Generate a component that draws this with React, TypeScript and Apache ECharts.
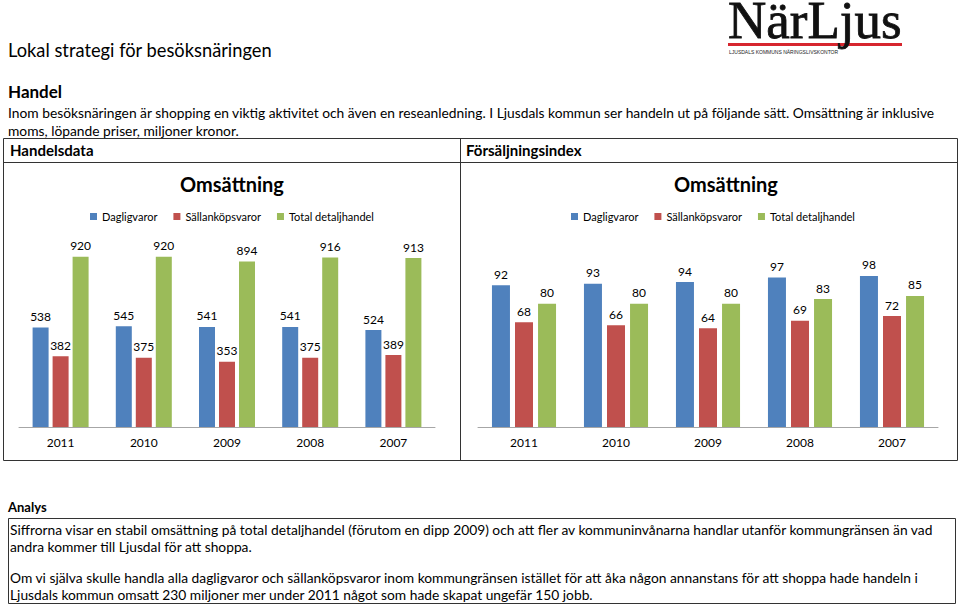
import React, { useEffect, useRef } from "react";
import * as echarts from "echarts";

const years = ["2011", "2010", "2009", "2008", "2007"];
const seriesNames = ["Dagligvaror", "Sällanköpsvaror", "Total detaljhandel"];
const omsDaglig = [538, 545, 541, 541, 524];
const omsSallan = [382, 375, 353, 375, 389];
const omsTotal = [920, 920, 894, 916, 913];
const idxDaglig = [92, 93, 94, 97, 98];
const idxSallan = [68, 66, 64, 69, 72];
const idxTotal = [80, 80, 80, 83, 85];
const colors = ["#4F81BD", "#C0504D", "#9BBB59"];

const pageTitle = "Lokal strategi för besöksnäringen";
const introLines = [
  "Inom besöksnäringen är shopping en viktig aktivitet och även en reseanledning. I Ljusdals kommun ser handeln ut på följande sätt. Omsättning är inklusive",
  "moms, löpande priser, miljoner kronor.",
];
const analysLines = [
  "Siffrorna visar en stabil omsättning på total detaljhandel (förutom en dipp 2009) och att fler av kommuninvånarna handlar utanför kommungränsen än vad",
  "andra kommer till Ljusdal för att shoppa.",
  "Om vi själva skulle handla alla dagligvaror och sällanköpsvaror inom kommungränsen istället för att åka någon annanstans för att shoppa hade handeln i",
  "Ljusdals kommun omsatt 230 miljoner mer under 2011 något som hade skapat ungefär 150 jobb.",
];

const FONT = "Lato";

export default function App() {
  const ref = useRef<HTMLDivElement>(null);
  useEffect(() => {
    if (!ref.current) return;
    const chart = echarts.init(ref.current, null, { renderer: "svg" });
    const label = {
      show: true,
      position: "top",
      distance: 5,
      color: "#000",
      fontSize: 12,
      fontFamily: FONT,
    };
    const mk = (name: string, data: number[], i: number, ax: number) => ({
      type: "bar",
      name,
      data,
      xAxisIndex: ax,
      yAxisIndex: ax,
      barWidth: ax === 0 ? 16 : 18,
      barGap: ax === 0 ? "25%" : "28%",
      itemStyle: { color: colors[i] },
      label,
    });
    const txt = (x: number, y: number, text: string, size: number, bold = false, extra: any = {}) => ({
      type: "text",
      x,
      y,
      style: {
        text,
        fontSize: size,
        fontFamily: FONT,
        fontWeight: bold ? "bold" : "normal",
        fill: "#000",
        verticalAlign: "middle",
        ...extra,
      },
    });
    const xAx = (gi: number) => ({
      type: "category",
      gridIndex: gi,
      data: years,
      axisLine: { lineStyle: { color: "#A6A6A6", width: 1 } },
      axisTick: { show: false },
      axisLabel: { color: "#000", fontSize: 12, fontFamily: FONT, margin: 9 },
    });
    const legendBase = {
      data: seriesNames,
      top: 206,
      icon: "rect",
      itemWidth: 7,
      itemHeight: 7,
      itemGap: 16,
      textStyle: { fontSize: 11, fontFamily: FONT, color: "#000" },
      selectedMode: false,
    };
    const titleStyle = { fontSize: 20, fontWeight: "bold", fontFamily: FONT, color: "#000" };
    chart.setOption({
      animation: false,
      backgroundColor: "#fff",
      title: [
        { text: "Omsättning", left: 227, top: 169, textAlign: "center", textStyle: titleStyle },
        { text: "Omsättning", left: 721, top: 169, textAlign: "center", textStyle: titleStyle },
      ],
      legend: [
        { ...legendBase, left: 85 },
        { ...legendBase, left: 566 },
      ],
      grid: [
        { left: 19, top: 242, width: 416, height: 185 },
        { left: 478, top: 242, width: 460, height: 185 },
      ],
      xAxis: [xAx(0), xAx(1)],
      yAxis: [
        { type: "value", gridIndex: 0, min: 0, max: 1000, show: false, splitLine: { show: false } },
        { type: "value", gridIndex: 1, min: 0, max: 120, show: false, splitLine: { show: false } },
      ],
      series: [
        mk(seriesNames[0], omsDaglig, 0, 0),
        mk(seriesNames[1], omsSallan, 1, 0),
        mk(seriesNames[2], omsTotal, 2, 0),
        mk(seriesNames[0], idxDaglig, 0, 1),
        mk(seriesNames[1], idxSallan, 1, 1),
        mk(seriesNames[2], idxTotal, 2, 1),
      ],
      graphic: [
        // logo
        { type: "rect", shape: { x: 728, y: 43, width: 174, height: 3 }, style: { fill: "#D6262E" } },
        {
          type: "text",
          x: 728,
          y: 20,
          style: {
            text: "NärLjus",
            fontSize: 53,
            lineHeight: 38,
            fontWeight: "normal",
            fontFamily: "Liberation Serif",
            fill: "#111",
            stroke: "#111",
            lineWidth: 0.8,
            verticalAlign: "middle",
          },
        },
        {
          type: "text",
          x: 729,
          y: 52,
          style: {
            text: "LJUSDALS KOMMUNS NÄRINGSLIVSKONTOR",
            fontSize: 5,
            lineHeight: 6,
            fontFamily: "Liberation Sans",
            fill: "#222",
            verticalAlign: "middle",
          },
        },
        txt(8, 50, pageTitle, 18.3),
        txt(8, 91, "Handel", 17, true),
        txt(8, 112, introLines[0], 13.8),
        txt(8, 130, introLines[1], 13.8),
        // table
        { type: "rect", shape: { x: 3.5, y: 138.5, width: 954, height: 322 }, style: { fill: "none", stroke: "#333", lineWidth: 1 } },
        { type: "line", shape: { x1: 3.5, y1: 162.5, x2: 957.5, y2: 162.5 }, style: { stroke: "#333", lineWidth: 1 } },
        { type: "line", shape: { x1: 460.5, y1: 138.5, x2: 460.5, y2: 460.5 }, style: { stroke: "#333", lineWidth: 1 } },
        txt(10, 150, "Handelsdata", 15, true),
        txt(466, 150, "Försäljningsindex", 15, true),
        // analys
        txt(8, 507, "Analys", 13, true),
        { type: "rect", shape: { x: 8.5, y: 518.5, width: 947, height: 85 }, style: { fill: "none", stroke: "#333", lineWidth: 1 } },
        txt(10, 529, analysLines[0], 13.8),
        txt(10, 546, analysLines[1], 13.8),
        txt(10, 577, analysLines[2], 13.8),
        txt(10, 594, analysLines[3], 13.8),
      ],
    });
    return () => chart.dispose();
  }, []);
  return (
    <div
      ref={ref}
      style={{ position: "fixed", left: 0, top: 0, width: 960, height: 605 }}
    />
  );
}
